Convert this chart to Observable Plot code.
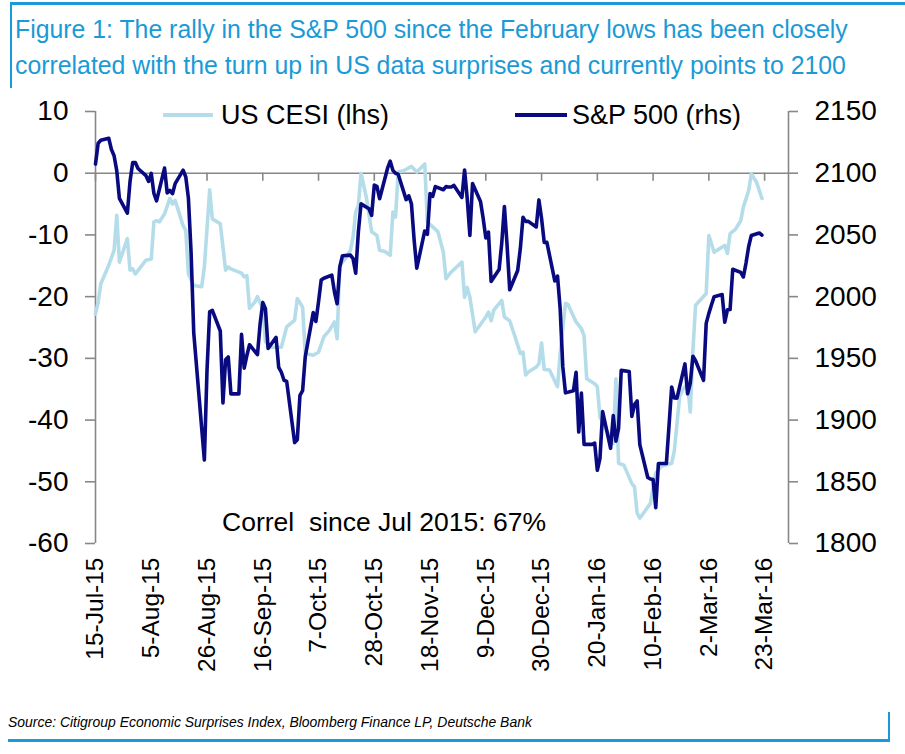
<!DOCTYPE html>
<html>
<head>
<meta charset="utf-8">
<script src="https://cdn.jsdelivr.net/npm/d3@7"></script>
<script src="https://cdn.jsdelivr.net/npm/@observablehq/plot@0.6"></script>
<style>
  body { margin: 0; background: #fff; font-family: "Liberation Sans", Arial, sans-serif; }
  #wrap { position: relative; width: 905px; height: 754px; overflow: hidden; background: #fff; }
  #topline { position: absolute; left: 10px; top: 2px; width: 895px; height: 3px; background: #1a9ad6; }
  #leftline { position: absolute; left: 10px; top: 2px; width: 2px; height: 86px; background: #1a9ad6; }
  #title { position: absolute; left: 15px; top: 11px; font-size: 26px; line-height: 36px; color: #1a9ad6;
           white-space: nowrap; transform: scaleX(0.955); transform-origin: 0 0; }
  #chart { position: absolute; left: 0; top: 88px; }
  .leg { position: absolute; font-size: 27px; line-height: 27px; color: #000; white-space: nowrap; }
  .sw { position: absolute; height: 4px; }
  #note { position: absolute; left: 222px; top: 509px; font-size: 26.5px; line-height: 26.5px; white-space: nowrap; }
  #source { position: absolute; left: 8px; top: 713px; font-size: 15px; line-height: 18px; font-style: italic;
            white-space: nowrap; transform: scaleX(0.93); transform-origin: 0 0; }
  #botline { position: absolute; left: 8px; top: 739px; width: 882px; height: 3px; background: #1a9ad6; }
  #rightline { position: absolute; left: 888px; top: 712px; width: 2px; height: 30px; background: #1a9ad6; }
</style>
</head>
<body>
<div id="wrap">
  <div id="topline"></div>
  <div id="leftline"></div>
  <div id="title">Figure 1: The rally in the S&amp;P 500 since the February lows has been closely<br>correlated with the turn up in US data surprises and currently points to 2100</div>
  <div id="chart"></div>
  <div class="sw" style="left:163px; top:113px; width:50px; background:#b4dde9;"></div>
  <div class="leg" style="left:221px; top:102px;">US CESI (lhs)</div>
  <div class="sw" style="left:515px; top:113px; width:52px; background:#0a0a80;"></div>
  <div class="leg" style="left:572px; top:102px;">S&amp;P 500 (rhs)</div>
  <div id="note">Correl&nbsp; since Jul 2015: 67%</div>
  <div id="source">Source: Citigroup Economic Surprises Index, Bloomberg Finance LP, Deutsche Bank</div>
  <div id="botline"></div>
  <div id="rightline"></div>
</div>
<script>
// ---- data ----
const seriesNames = ["US CESI (lhs)", "S&P 500 (rhs)"];

const cesiDates = [
  "2015-07-15","2015-07-16","2015-07-17","2015-07-20","2015-07-22","2015-07-23","2015-07-24","2015-07-27",
  "2015-07-28","2015-07-29","2015-07-30","2015-08-01","2015-08-03","2015-08-05","2015-08-06","2015-08-07",
  "2015-08-08","2015-08-10","2015-08-12","2015-08-13","2015-08-14","2015-08-17","2015-08-18","2015-08-19",
  "2015-08-21","2015-08-24","2015-08-25","2015-08-27","2015-08-28","2015-08-31","2015-09-02","2015-09-03",
  "2015-09-04","2015-09-08","2015-09-09","2015-09-10","2015-09-11","2015-09-13","2015-09-14","2015-09-16",
  "2015-09-17","2015-09-19","2015-09-23","2015-09-25","2015-09-28","2015-09-29","2015-10-01","2015-10-02",
  "2015-10-05","2015-10-07","2015-10-09","2015-10-11","2015-10-13","2015-10-14","2015-10-15","2015-10-17",
  "2015-10-19","2015-10-20","2015-10-21","2015-10-22","2015-10-23","2015-10-25","2015-10-27","2015-10-29",
  "2015-10-30","2015-11-01","2015-11-03","2015-11-04","2015-11-05","2015-11-06","2015-11-08","2015-11-11",
  "2015-11-13","2015-11-16","2015-11-17","2015-11-19","2015-11-21","2015-11-23","2015-11-24","2015-11-26",
  "2015-11-30","2015-12-01","2015-12-02","2015-12-03","2015-12-05","2015-12-09","2015-12-10","2015-12-11",
  "2015-12-12","2015-12-15","2015-12-16","2015-12-18","2015-12-20","2015-12-22","2015-12-23","2015-12-24",
  "2015-12-25","2015-12-28","2015-12-29","2015-12-30","2015-12-31","2016-01-02","2016-01-05","2016-01-06",
  "2016-01-08","2016-01-09","2016-01-12","2016-01-14","2016-01-15","2016-01-16","2016-01-19","2016-01-20",
  "2016-01-21","2016-01-26","2016-01-27","2016-01-28","2016-01-30","2016-02-02","2016-02-03","2016-02-04",
  "2016-02-05","2016-02-09","2016-02-11","2016-02-13","2016-02-17","2016-02-18","2016-02-20","2016-02-21",
  "2016-02-23","2016-02-24","2016-02-25","2016-02-26","2016-03-01","2016-03-02","2016-03-04","2016-03-05",
  "2016-03-08","2016-03-09","2016-03-10","2016-03-12","2016-03-14","2016-03-15","2016-03-17","2016-03-18",
  "2016-03-20","2016-03-22"
];
const cesiValues = [
  -22.8,-20.9,-17.9,-14.9,-12.5,-6.8,-14.4,-10.6,
  -15.7,-15.5,-16.3,-15.2,-14.1,-13.9,-7.9,-7.7,
  -7.9,-6.6,-4.1,-5.0,-4.4,-8.5,-9.3,-16.3,
  -18.2,-18.4,-15.2,-2.7,-7.4,-8.2,-15.7,-15.2,
  -15.5,-16.2,-16.8,-16.6,-21.9,-20.9,-20.0,-21.9,
  -27.3,-28.2,-28.2,-24.9,-23.8,-20.3,-21.7,-29.2,
  -29.5,-29.0,-26.5,-25.5,-24.1,-26.8,-14.9,-13.9,
  -12.5,-10.4,-6.3,-5.2,0.0,-3.9,-9.5,-10.1,
  -12.5,-12.7,-13.3,-6.3,-7.1,0.2,0.4,1.1,
  0.2,1.5,-7.9,-8.7,-9.5,-12.8,-17.1,-16.0,
  -14.4,-20.1,-18.5,-20.1,-25.7,-23.3,-22.5,-23.9,
  -22.2,-20.6,-23.3,-23.9,-26.5,-29.2,-29.0,-32.7,
  -32.2,-31.4,-30.9,-27.5,-31.8,-31.9,-34.6,-29.2,
  -21.1,-21.3,-24.1,-25.2,-26.3,-33.3,-34.1,-34.6,
  -39.5,-43.8,-33.3,-47.0,-47.3,-50.3,-50.8,-55.1,
  -55.9,-53.5,-48.6,-47.5,-47.0,-45.0,-36.2,-35.2,
  -34.1,-38.7,-28.7,-21.4,-19.5,-10.1,-12.8,-12.5,
  -11.7,-13.0,-9.8,-9.1,-7.7,-5.5,-2.8,-0.1,
  -1.5,-4.1
];

const spDates = [
  "2015-07-15","2015-07-16","2015-07-17","2015-07-20","2015-07-21","2015-07-22","2015-07-23","2015-07-24",
  "2015-07-27","2015-07-28","2015-07-29","2015-07-30","2015-07-31",
  "2015-08-03","2015-08-04","2015-08-05","2015-08-06","2015-08-07","2015-08-10","2015-08-11","2015-08-12",
  "2015-08-13","2015-08-14","2015-08-17","2015-08-18","2015-08-19","2015-08-20","2015-08-21","2015-08-24",
  "2015-08-25","2015-08-26","2015-08-27","2015-08-28","2015-08-31",
  "2015-09-01","2015-09-02","2015-09-03","2015-09-04","2015-09-07","2015-09-08","2015-09-09","2015-09-10",
  "2015-09-11","2015-09-14","2015-09-15","2015-09-16","2015-09-17","2015-09-18","2015-09-21","2015-09-22",
  "2015-09-23","2015-09-24","2015-09-25","2015-09-28","2015-09-29","2015-09-30",
  "2015-10-01","2015-10-02","2015-10-05","2015-10-06","2015-10-07","2015-10-08","2015-10-09","2015-10-12",
  "2015-10-13","2015-10-14","2015-10-15","2015-10-16","2015-10-19","2015-10-20","2015-10-21","2015-10-22",
  "2015-10-23","2015-10-26","2015-10-27","2015-10-28","2015-10-29","2015-10-30",
  "2015-11-02","2015-11-03","2015-11-04","2015-11-05","2015-11-06","2015-11-09","2015-11-10","2015-11-11",
  "2015-11-12","2015-11-13","2015-11-16","2015-11-17","2015-11-18","2015-11-19","2015-11-20","2015-11-23",
  "2015-11-24","2015-11-25","2015-11-26","2015-11-27","2015-11-30",
  "2015-12-01","2015-12-02","2015-12-03","2015-12-04","2015-12-07","2015-12-08","2015-12-09","2015-12-10",
  "2015-12-11","2015-12-14","2015-12-15","2015-12-16","2015-12-17","2015-12-18","2015-12-21","2015-12-22",
  "2015-12-23","2015-12-24","2015-12-25","2015-12-28","2015-12-29","2015-12-30","2015-12-31",
  "2016-01-01","2016-01-04","2016-01-05","2016-01-06","2016-01-07","2016-01-08","2016-01-11","2016-01-12",
  "2016-01-13","2016-01-14","2016-01-15","2016-01-18","2016-01-19","2016-01-20","2016-01-21","2016-01-22",
  "2016-01-25","2016-01-26","2016-01-27","2016-01-28","2016-01-29",
  "2016-02-01","2016-02-02","2016-02-03","2016-02-04","2016-02-05","2016-02-08","2016-02-09","2016-02-10",
  "2016-02-11","2016-02-12","2016-02-15","2016-02-16","2016-02-17","2016-02-18","2016-02-19","2016-02-22",
  "2016-02-23","2016-02-24","2016-02-25","2016-02-26","2016-02-29",
  "2016-03-01","2016-03-02","2016-03-03","2016-03-04","2016-03-07","2016-03-08","2016-03-09","2016-03-10",
  "2016-03-11","2016-03-14","2016-03-15","2016-03-16","2016-03-17","2016-03-18","2016-03-21","2016-03-22"
];
const spValues = [
  2107.40,2124.29,2126.64,2128.28,2119.21,2114.15,2102.15,2079.65,
  2067.64,2093.25,2108.57,2108.63,2103.84,
  2098.04,2093.32,2099.84,2083.56,2077.57,2104.18,2084.07,2086.05,
  2083.39,2091.54,2102.44,2096.92,2079.61,2035.73,1970.89,1893.21,
  1867.61,1940.51,1987.66,1988.87,1972.18,
  1913.85,1948.86,1951.13,1921.22,1921.22,1969.41,1942.04,1952.29,
  1961.05,1953.03,1978.09,1995.31,1990.20,1958.03,1966.97,1942.74,
  1938.76,1932.24,1931.34,1881.77,1884.09,1920.03,
  1923.82,1951.36,1987.05,1979.92,1995.83,2013.43,2014.89,2017.46,
  2003.69,1994.24,2023.86,2033.11,2033.66,2030.77,2018.94,2052.51,
  2075.15,2071.18,2065.89,2090.35,2089.41,2079.36,
  2104.05,2109.79,2102.31,2099.93,2099.20,2078.58,2081.72,2075.00,
  2045.97,2023.04,2053.19,2050.44,2083.58,2081.24,2089.17,2086.59,
  2089.14,2088.87,2088.87,2090.11,2080.41,
  2102.63,2079.51,2049.62,2091.69,2077.07,2063.59,2047.62,2052.23,
  2012.37,2021.94,2043.41,2073.07,2041.89,2005.55,2021.15,2038.97,
  2064.29,2060.99,2060.99,2056.50,2078.36,2063.36,2043.94,
  2043.94,2012.66,2016.71,1990.26,1943.09,1922.03,1923.67,1938.68,
  1890.28,1921.84,1880.33,1880.33,1881.33,1859.33,1868.99,1906.90,
  1877.08,1903.63,1882.95,1893.36,1940.24,
  1939.38,1903.03,1912.53,1915.45,1880.05,1853.44,1852.21,1851.86,
  1829.08,1864.78,1864.78,1895.58,1926.82,1917.83,1917.78,1945.50,
  1921.27,1929.80,1951.70,1948.05,1932.23,
  1978.35,1986.45,1993.40,1999.99,2001.76,1979.26,1989.26,1989.57,
  2022.19,2019.64,2015.93,2027.22,2040.59,2049.58,2051.60,2049.80
];

const xTickDates = ["2015-07-15","2015-08-05","2015-08-26","2015-09-16","2015-10-07","2015-10-28","2015-11-18",
                    "2015-12-09","2015-12-30","2016-01-20","2016-02-10","2016-03-02","2016-03-23"];
const xDomainDates = ["2015-07-15","2016-04-01"];
const lhsTicks = [-60,-50,-40,-30,-20,-10,0,10];
const lhsDomain = [-60, 10];
const rhsDomain = [1800, 2150];

// ---- build ----
const parse = d3.utcParse("%Y-%m-%d");
const fmt = d3.utcFormat("%-d-%b-%y");
const k = (lhsDomain[1] - lhsDomain[0]) / (rhsDomain[1] - rhsDomain[0]);
const toLhs = v => lhsDomain[0] + (v - rhsDomain[0]) * k;
const toRhs = v => rhsDomain[0] + (v - lhsDomain[0]) / k;

const cesi = cesiDates.map((d, i) => ({date: parse(d), value: cesiValues[i]}));
const sp = spDates.map((d, i) => ({date: parse(d), value: spValues[i]}));
const xTicks = xTickDates.map(parse);
const xDomain = xDomainDates.map(parse);

const gray = "#878787";
const light = "#b4dde9";
const navy = "#0a0a80";

const chart = Plot.plot({
  width: 905,
  height: 602,
  marginLeft: 95,
  marginRight: 117,
  marginTop: 23,
  marginBottom: 147,
  x: {type: "utc", domain: xDomain, axis: null},
  y: {domain: lhsDomain, axis: null},
  style: {fontFamily: "'Liberation Sans', Arial, sans-serif", background: "transparent", overflow: "visible", color: "#000"},
  marks: [
    Plot.ruleY([0], {stroke: gray, strokeWidth: 1.6}),
    Plot.ruleX(xTicks, {x: d => d, y1: 0, y2: -1.3, stroke: gray, strokeWidth: 1.6}),
    Plot.ruleX([xDomain[0]], {stroke: gray, strokeWidth: 1.6}),
    Plot.ruleX([xDomain[1]], {stroke: gray, strokeWidth: 1.6}),
    Plot.axisY(lhsTicks, {anchor: "left", label: null, tickSize: 10, tickPadding: 17, fontSize: 28, stroke: gray, strokeWidth: 1.6, fill: "#000",
                          tickFormat: d => String(d)}),
    Plot.axisY(lhsTicks, {anchor: "right", label: null, tickSize: 9, tickPadding: 17, fontSize: 28, stroke: gray, strokeWidth: 1.6, fill: "#000",
                          tickFormat: d => String(Math.round(toRhs(d)))}),
    Plot.axisX(xTicks, {anchor: "bottom", label: null, tickSize: 0, tickPadding: 14, tickRotate: -90, fontSize: 24.5, fill: "#000",
                        tickFormat: fmt}),
    Plot.line(cesi, {x: "date", y: "value", stroke: light, strokeWidth: 3.6, strokeLinejoin: "round"}),
    Plot.line(sp, {x: "date", y: d => toLhs(d.value), stroke: navy, strokeWidth: 3.6, strokeLinejoin: "round"})
  ]
});
document.getElementById("chart").appendChild(chart);
</script>
</body>
</html>
